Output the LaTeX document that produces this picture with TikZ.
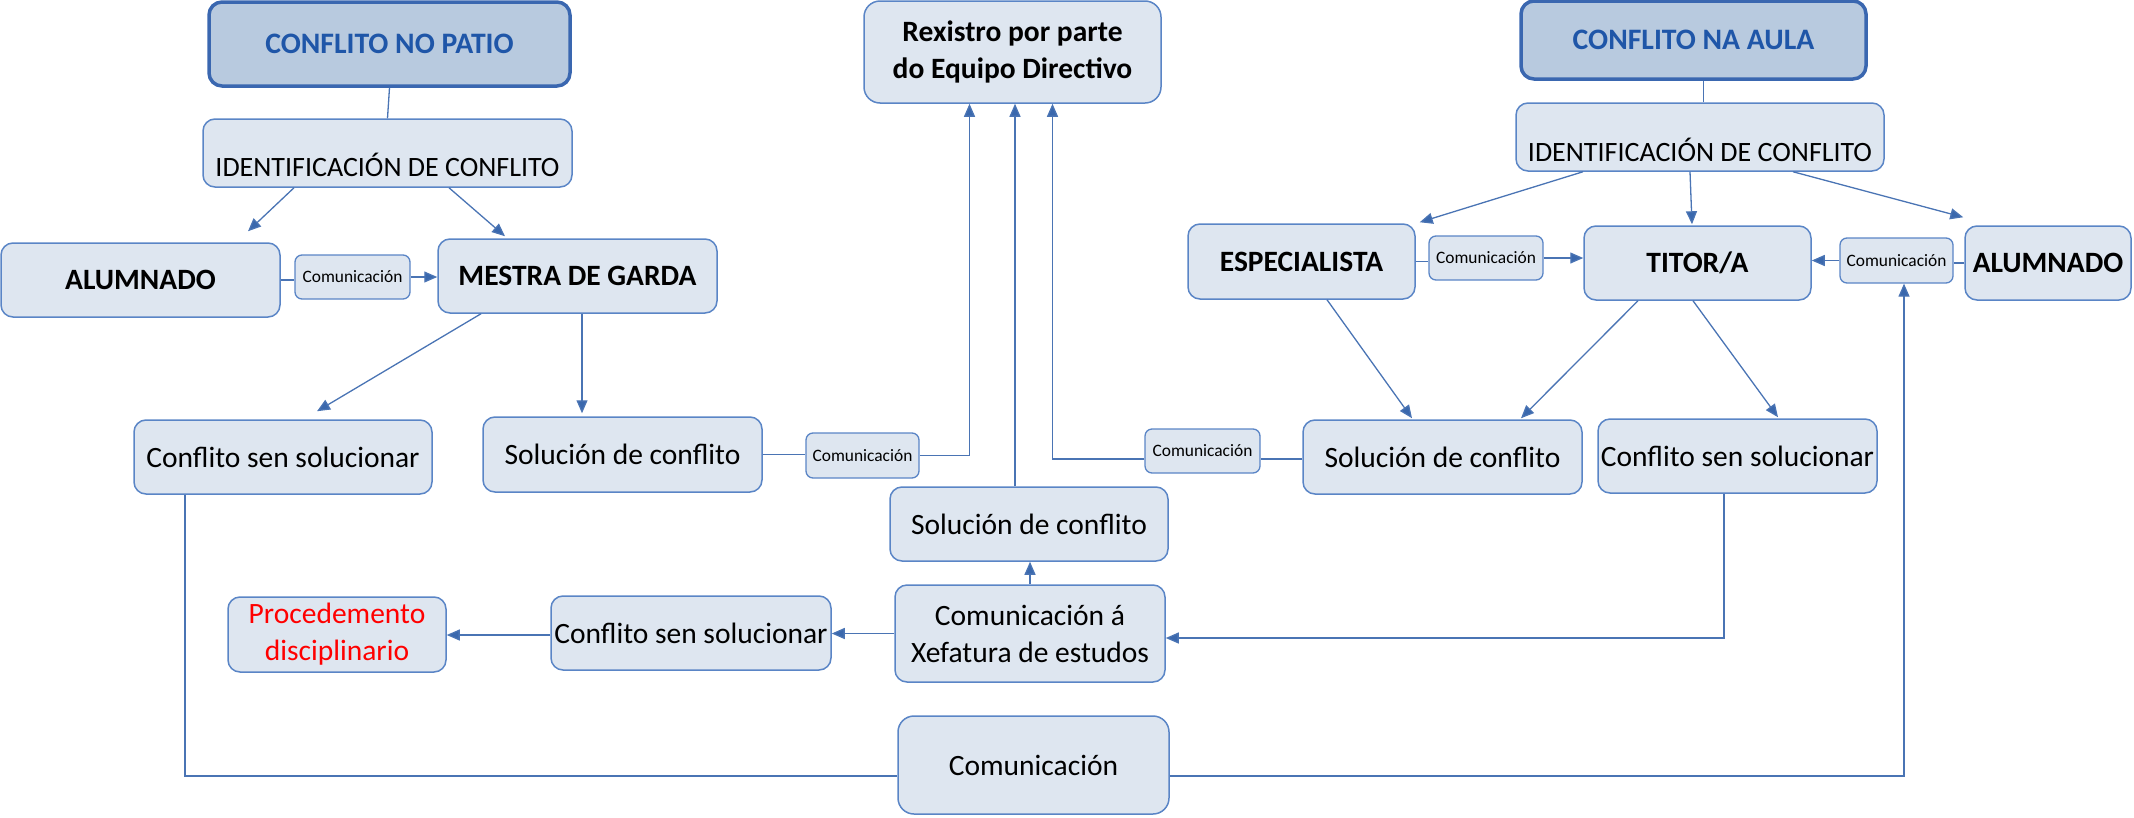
\documentclass[tikz,border=0pt]{standalone}
\usepackage{fontspec}
\setmainfont{Carlito}
\usetikzlibrary{calc,arrows.meta}
\definecolor{boxfill}{HTML}{DEE6F0}
\definecolor{boxline}{HTML}{5A85C6}
\definecolor{headfill}{HTML}{B8CADF}
\definecolor{headline}{HTML}{3A67B0}
\definecolor{headtext}{HTML}{1F56A8}
\definecolor{conline}{HTML}{4A74B4}
\definecolor{tipcol}{HTML}{3A68AD}
\tikzset{
  box/.style={draw=boxline, fill=boxfill, line width=1.5pt, rounded corners=12pt, inner sep=0pt, align=center, font=\fontsize{29.5}{37}\selectfont},
  boldbox/.style={box, font=\fontsize{29.5}{37}\selectfont\bfseries},
  headbox/.style={draw=headline, fill=headfill, line width=3.5pt, rounded corners=13pt, inner sep=0pt, align=center, text=headtext, font=\fontsize{29.7}{36}\selectfont\bfseries},
  combox/.style={draw=boxline, fill=boxfill, line width=1.3pt, rounded corners=7pt, inner sep=0pt, font=\fontsize{17.4}{21}\selectfont},
  conn/.style={draw=conline, line width=1.3pt},
  arr/.style={conn, -{Triangle[length=13pt,width=11pt,fill=tipcol]}},
}
\begin{document}
\begin{tikzpicture}[x=1pt,y=-1pt]
\useasboundingbox (0,0) rectangle (2134,817);
% left branch
\node[headbox, minimum width=361, minimum height=84] (hL) at (389.5,44) {CONFLITO NO PATIO};
\node[box, minimum width=369, minimum height=68, font=\fontsize{28}{34}\selectfont] (idL) at (387.5,153) {\raisebox{-23pt}[0pt][0pt]{IDENTIFICACIÓN DE CONFLITO}};
\node[boldbox, minimum width=279, minimum height=74] (alL) at (140.5,280) {ALUMNADO};
\node[combox, minimum width=115, minimum height=44] (cmL1) at (352.5,277) {Comunicación};
\node[boldbox, minimum width=279, minimum height=74] (mestra) at (577.5,276) {MESTRA DE GARDA};
\node[box, minimum width=298, minimum height=74] (csL) at (283,457) {Conflito sen solucionar};
\node[box, minimum width=279, minimum height=75] (solL) at (622.5,454.5) {Solución de conflito};
\node[combox, minimum width=113, minimum height=45] (cmM1) at (862.5,455.5) {Comunicación};
% centre
\node[boldbox, minimum width=297, minimum height=102, rounded corners=16pt] (rex) at (1012.5,52) {Rexistro por parte\\do Equipo Directivo};
\node[combox, minimum width=115, minimum height=44] (cmM2) at (1202.5,451) {Comunicación};
\node[box, minimum width=278, minimum height=74] (solM) at (1029,524) {Solución de conflito};
\node[box, minimum width=270, minimum height=97] (xef) at (1030,633.5) {Comunicación á\\Xefatura de estudos};
\node[box, minimum width=280, minimum height=74] (csM) at (691,633) {Conflito sen solucionar};
\node[box, minimum width=218, minimum height=75, text=red] (proc) at (337,634.5) {Procedemento\\disciplinario};
\node[box, minimum width=271, minimum height=98, rounded corners=16pt] (comB) at (1033.5,765) {Comunicación};
% right branch
\node[headbox, minimum width=345, minimum height=78] (hR) at (1693.5,40) {CONFLITO NA AULA};
\node[box, minimum width=368, minimum height=68, font=\fontsize{28}{34}\selectfont] (idR) at (1700,137) {\raisebox{-24pt}[0pt][0pt]{IDENTIFICACIÓN DE CONFLITO}};
\node[boldbox, minimum width=227, minimum height=75] (esp) at (1301.5,261.5) {ESPECIALISTA};
\node[combox, minimum width=114, minimum height=44] (cmR1) at (1486,258) {Comunicación};
\node[boldbox, minimum width=227, minimum height=74] (titor) at (1697.5,263) {TITOR/A};
\node[combox, minimum width=113, minimum height=45] (cmR2) at (1896.5,260.5) {Comunicación};
\node[boldbox, minimum width=166, minimum height=74] (alR) at (2048,263) {ALUMNADO};
\node[box, minimum width=279, minimum height=74] (solR) at (1442.5,457) {Solución de conflito};
\node[box, minimum width=279, minimum height=74] (csR) at (1737.5,456) {Conflito sen solucionar};
% connectors left
\draw[conn] (hL.south) -- (idL.north);
\draw[arr] ($(idL.south)+(-93.5,0)$) -- ($(alL.north)+(107.5,-11)$);
\draw[arr] ($(idL.south)+(61.5,0)$) -- ($(mestra.north)+(-72.5,-2)$);
\draw[conn] (alL.east) -- (alL.east -| cmL1.west);
\draw[arr] (cmL1.east) -- (cmL1.east -| mestra.west);
\draw[arr] ($(mestra.south)+(-96.5,0)$) -- ($(csL.north)+(34,-8)$);
\draw[arr] ($(mestra.south)+(4.5,0)$) -- ($(solL.north)+(-40.5,-3)$);
\draw[conn] (solL.east) -- (solL.east -| cmM1.west);
\draw[arr] (cmM1.east) -| ($(rex.south)+(-43,0)$);
% centre connectors
\draw[arr] ($(solM.north)+(-14,0)$) -- ($(rex.south)+(2.5,0)$);
\draw[conn] ($(solR.west)+(0,2)$) -- ($(cmM2.east)+(0,8)$);
\draw[arr] ($(cmM2.west)+(0,8)$) -| ($(rex.south)+(40,0)$);
\draw[arr] (xef.north) -- (xef.north |- solM.south);
\draw[arr] (xef.west) -- (xef.west -| csM.east);
\draw[arr] ($(csM.west)+(0,2)$) -- ($(proc.east)+(0,0.5)$);
% right connectors
\draw[conn] ($(hR.south)+(10,0)$) -- ($(idR.north)+(3.5,0)$);
\draw[arr] ($(idR.south)+(-117,0)$) -- ($(esp.north east)+(4,-1)$);
\draw[arr] ($(idR.south)+(-10,0)$) -- ($(titor.north)+(-5.5,-1)$);
\draw[arr] ($(idR.south)+(93,0)$) -- ($(alR.north west)+(-1,-8)$);
\draw[conn] (esp.east) -- (esp.east -| cmR1.west);
\draw[arr] (cmR1.east) -- (cmR1.east -| titor.west);
\draw[conn] (alR.west) -- (alR.west -| cmR2.east);
\draw[arr] (cmR2.west) -- (cmR2.west -| titor.east);
\draw[arr] ($(esp.south)+(25.5,0)$) -- ($(solR.north)+(-30.5,-1)$);
\draw[arr] ($(titor.south)+(-59.5,0)$) -- ($(solR.north)+(78.5,-1)$);
\draw[arr] ($(titor.south)+(-4.5,0)$) -- ($(csR.north)+(40.5,-1)$);
\draw[arr] ($(csR.south)+(-13.5,0)$) |- ($(xef.east)+(0,4.5)$);
% bottom loop
\draw[conn] ($(csL.south)+(-98,0)$) |- ($(comB.west)+(0,11)$);
\draw[arr] ($(comB.east)+(0,11)$) -| ($(cmR2.south)+(7.5,0)$);
\end{tikzpicture}
\end{document}
